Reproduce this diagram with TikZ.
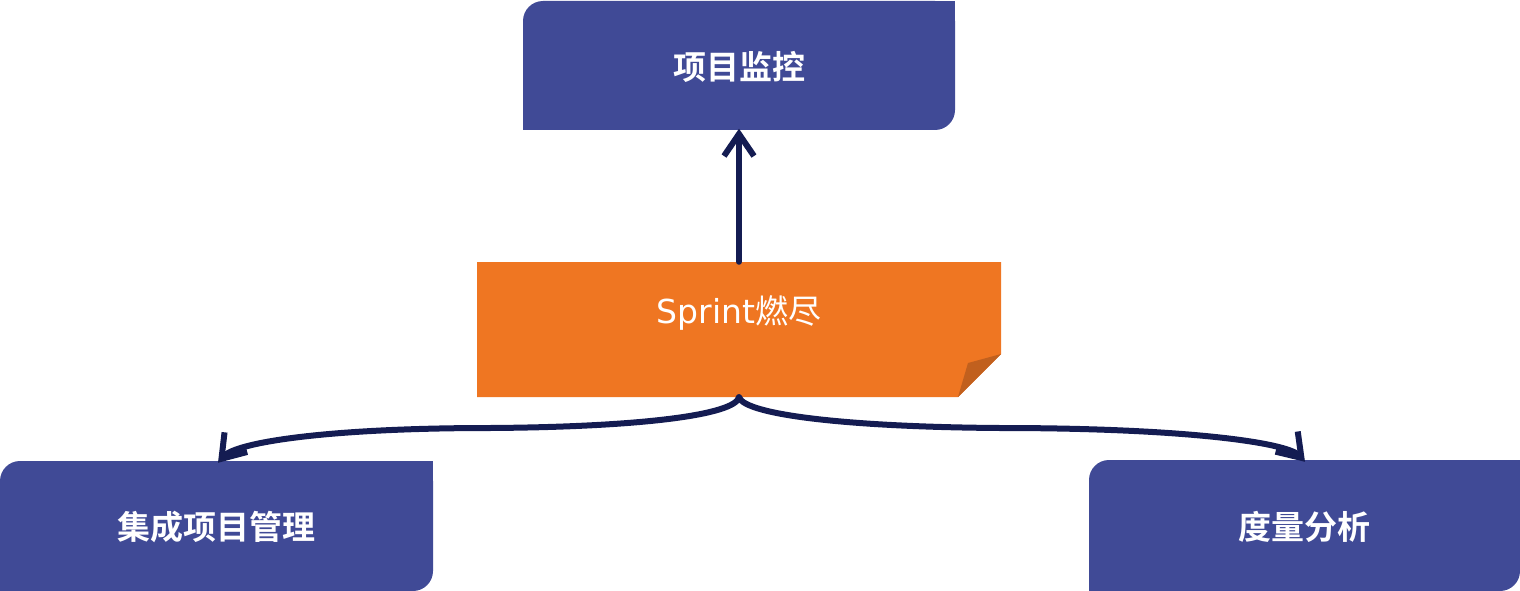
\documentclass[tikz,border=0pt]{standalone}
\usepackage{fontspec}
\usetikzlibrary{arrows.meta}
\newfontfamily\cjkb[BoldFont={Noto Sans CJK SC Bold}]{Noto Sans CJK SC}
\newfontfamily\cjk{Noto Sans CJK SC}
\newfontfamily\dejavu{DejaVu Sans}
\definecolor{boxblue}{HTML}{404A96}
\definecolor{noteorange}{HTML}{EF7622}
\definecolor{notefold}{HTML}{C1601E}
\definecolor{linenavy}{HTML}{141C52}
\tikzset{
  boxlabel/.style={inner sep=0pt, text=white, font=\cjkb\bfseries\fontsize{33}{38}\selectfont},
  conn/.style={draw=linenavy, line width=6pt, line cap=round, line join=round,
    -{Straight Barb[length=22pt, width=30pt, line width=6pt]}},
}
\begin{document}
\begin{tikzpicture}[x=1pt, y=-1pt]
\useasboundingbox (0,0) rectangle (1520,591);
% top box
\fill[boxblue, rounded corners=20pt] (523,1) rectangle (955,130);
\fill[boxblue] (925,1) rectangle (955,31);
\fill[boxblue] (523,100) rectangle (553,130);
\node[boxlabel, minimum width=432pt, minimum height=129pt] (top) at (739,67) {项目监控};
% bottom left box
\fill[boxblue, rounded corners=20pt] (0,461) rectangle (433,591);
\fill[boxblue] (403,461) rectangle (433,491);
\fill[boxblue] (0,561) rectangle (30,591);
\node[boxlabel, minimum width=433pt, minimum height=130pt] (left) at (216.5,527) {集成项目管理};
% bottom right box
\fill[boxblue, rounded corners=20pt] (1089,460) rectangle (1520,591);
\fill[boxblue] (1490,460) rectangle (1520,490);
\fill[boxblue] (1089,561) rectangle (1119,591);
\node[boxlabel, minimum width=431pt, minimum height=131pt] (right) at (1304.5,527) {度量分析};
% orange note
\fill[noteorange] (477,262) -- (1001,262) -- (1001,354) -- (958,397) -- (477,397) -- cycle;
\fill[notefold] (1001,354) -- (968,363) -- (958,397) -- cycle;
\node[inner sep=0pt, text=white, minimum width=524pt, minimum height=135pt] (sprint) at (739,329.5)
  {\raisebox{39pt}{\fontsize{33}{38}\selectfont\dejavu Sprint\cjk 燃尽}};
% connectors
\draw[conn] (sprint.north) -- ([yshift=3pt]top.south);
\draw[conn] (sprint.south) .. controls (735,415) and (640,427) .. (490,428)
   .. controls (330,428) and (236,442) .. ([xshift=1.5pt,yshift=-1pt]left.north);
\draw[conn] (sprint.south) .. controls (745,415) and (850,427) .. (1000,428)
   .. controls (1180,428) and (1287,442) .. ([xshift=0.5pt,yshift=-0.5pt]right.north);
\end{tikzpicture}
\end{document}
